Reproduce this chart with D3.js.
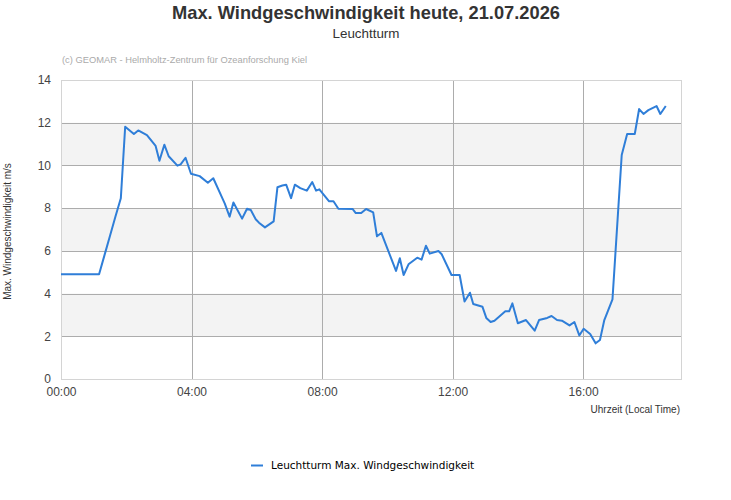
<!DOCTYPE html>
<html>
<head>
<meta charset="utf-8">
<script src="https://cdn.jsdelivr.net/npm/d3@7"></script>
<style>
  html, body { margin: 0; padding: 0; background: #fff; }
  svg { display: block; }
</style>
</head>
<body>
<svg id="chart" width="731" height="500"></svg>
<script>
// ---- data ----
const chartTitle = "Max. Windgeschwindigkeit heute, 21.07.2026";
const chartSubtitle = "Leuchtturm";
const credit = "(c) GEOMAR - Helmholtz-Zentrum für Ozeanforschung Kiel";
const yAxisTitle = "Max. Windgeschwindigkeit m/s";
const xAxisTitle = "Uhrzeit (Local Time)";
const seriesName = "Leuchtturm Max. Windgeschwindigkeit";
const xTickLabels = ["00:00", "04:00", "08:00", "12:00", "16:00"];
const yTickValues = [0, 2, 4, 6, 8, 10, 12, 14];
const xDomain = ["00:00", "19:00"];

const times = [
  "00:00","01:10","01:20","01:30","01:40","01:50","01:58","02:14","02:22","02:38",
  "02:54","03:01","03:10","03:18","03:34","03:40","03:49","03:59","04:15","04:30",
  "04:40","05:01","05:10","05:17","05:33","05:42","05:49","05:58","06:04","06:15",
  "06:31","06:38","06:47","06:54","07:03","07:10","07:20","07:32","07:42","07:49",
  "07:55","08:13","08:21","08:30","08:56","09:02","09:12","09:21","09:34","09:41",
  "09:49","10:16","10:23","10:30","10:39","10:55","11:03","11:11","11:18","11:34",
  "11:40","11:58","12:13","12:22","12:32","12:38","12:55","13:02","13:10","13:17",
  "13:37","13:44","13:50","14:00","14:15","14:31","14:39","14:54","15:02","15:12",
  "15:21","15:35","15:44","15:53","16:01","16:13","16:23","16:31","16:39","16:54",
  "17:11","17:21","17:35","17:43","17:51","18:00","18:15","18:22","18:32"
];
const windSpeed = [
  4.9,4.9,5.8,6.7,7.6,8.46,11.81,11.47,11.64,11.42,
  10.91,10.22,10.97,10.43,9.99,10.05,10.36,9.61,9.50,9.19,
  9.40,8.22,7.60,8.26,7.51,7.97,7.91,7.48,7.32,7.10,
  7.38,8.98,9.06,9.10,8.47,9.10,8.94,8.82,9.22,8.82,
  8.88,8.32,8.32,7.97,7.96,7.77,7.77,7.96,7.80,6.68,
  6.84,5.06,5.65,4.87,5.37,5.68,5.59,6.24,5.87,5.99,
  5.84,4.87,4.87,3.63,4.04,3.51,3.38,2.86,2.67,2.73,
  3.17,3.17,3.54,2.61,2.76,2.26,2.76,2.86,2.95,2.76,
  2.73,2.51,2.67,2.04,2.35,2.11,1.67,1.83,2.76,3.73,
  10.49,11.47,11.47,12.64,12.41,12.59,12.78,12.41,12.78
];

// ---- helpers ----
const toMin = s => { const [h, m] = s.split(":").map(Number); return h * 60 + m; };
const data = times.map((t, i) => ({ t: toMin(t), v: windSpeed[i] }));

// ---- layout ----
const svg = d3.select("#chart");
const plot = { left: 61, right: 681, top: 80, bottom: 379 };

const x = d3.scaleLinear().domain(xDomain.map(toMin)).range([plot.left, plot.right]);
const y = d3.scaleLinear().domain([0, 14]).range([plot.bottom, plot.top]);

const font = "'Liberation Sans', Arial, sans-serif";

// alternating bands
const bands = [];
for (let i = 0; i < yTickValues.length - 1; i++) {
  if (i % 2 === 1) bands.push([yTickValues[i], yTickValues[i + 1]]);
}
svg.append("g").selectAll("rect").data(bands).join("rect")
  .attr("x", plot.left).attr("width", plot.right - plot.left)
  .attr("y", d => y(d[1])).attr("height", d => y(d[0]) - y(d[1]))
  .attr("fill", "#f3f3f3");

// horizontal grid
svg.append("g").selectAll("line").data(yTickValues.slice(1, -1)).join("line")
  .attr("x1", plot.left).attr("x2", plot.right)
  .attr("y1", d => Math.round(y(d)) + 0.5).attr("y2", d => Math.round(y(d)) + 0.5)
  .attr("stroke", "#acacac").attr("stroke-width", 1);

// vertical grid
svg.append("g").selectAll("line").data(xTickLabels.slice(1)).join("line")
  .attr("y1", plot.top).attr("y2", plot.bottom)
  .attr("x1", d => Math.round(x(toMin(d))) + 0.5).attr("x2", d => Math.round(x(toMin(d))) + 0.5)
  .attr("stroke", "#acacac").attr("stroke-width", 1);

// plot border
svg.append("rect")
  .attr("x", plot.left + 0.5).attr("y", plot.top + 0.5)
  .attr("width", plot.right - plot.left).attr("height", plot.bottom - plot.top)
  .attr("fill", "none").attr("stroke", "#d4d4d4");

// axes (text only)
const yAxis = d3.axisLeft(y).tickValues(yTickValues).tickSize(0).tickPadding(0);
const gy = svg.append("g").attr("transform", `translate(${plot.left - 10},0)`).call(yAxis);
gy.select(".domain").remove();
gy.selectAll("text").attr("font-family", font).attr("font-size", 12).attr("fill", "#444").attr("dy", "0.32em");

const xAxis = d3.axisBottom(x).tickValues(xTickLabels.map(toMin))
  .tickFormat((d, i) => xTickLabels[i]).tickSize(0).tickPadding(0);
const gx = svg.append("g").attr("transform", `translate(0,${plot.bottom + 8})`).call(xAxis);
gx.select(".domain").remove();
gx.selectAll("text").attr("font-family", font).attr("font-size", 12).attr("fill", "#444").attr("dy", "0.71em");

// line
svg.append("path").datum(data)
  .attr("d", d3.line().x(d => x(d.t)).y(d => y(d.v)))
  .attr("fill", "none").attr("stroke", "#2f7ed8").attr("stroke-width", 2)
  .attr("stroke-linejoin", "round");

// titles
svg.append("text").attr("x", 366).attr("y", 19).attr("text-anchor", "middle")
  .attr("font-family", font).attr("font-weight", "bold").attr("font-size", 19)
  .attr("fill", "#333").attr("textLength", 388).attr("lengthAdjust", "spacingAndGlyphs")
  .text(chartTitle);
svg.append("text").attr("x", 366).attr("y", 38).attr("text-anchor", "middle")
  .attr("font-family", font).attr("font-size", 13)
  .attr("fill", "#333").attr("textLength", 67).attr("lengthAdjust", "spacingAndGlyphs")
  .text(chartSubtitle);
svg.append("text").attr("x", 62).attr("y", 63)
  .attr("font-family", font).attr("font-size", 9)
  .attr("fill", "#aaa").attr("textLength", 245).attr("lengthAdjust", "spacingAndGlyphs")
  .text(credit);

// axis titles
svg.append("text").attr("transform", `translate(11,${(plot.top + plot.bottom) / 2 + 2}) rotate(-90)`)
  .attr("text-anchor", "middle").attr("font-family", font).attr("font-size", 10)
  .attr("fill", "#333").text(yAxisTitle);
svg.append("text").attr("x", 680).attr("y", 413).attr("text-anchor", "end")
  .attr("font-family", font).attr("font-size", 10).attr("fill", "#333").text(xAxisTitle);

// legend
const lg = svg.append("g");
lg.append("line").attr("x1", 251).attr("x2", 263).attr("y1", 465.5).attr("y2", 465.5)
  .attr("stroke", "#2f7ed8").attr("stroke-width", 2);
lg.append("text").attr("x", 271).attr("y", 469)
  .attr("font-family", "'DejaVu Sans', Verdana, sans-serif").attr("font-size", 10.5)
  .attr("fill", "#000").text(seriesName);
</script>
</body>
</html>
